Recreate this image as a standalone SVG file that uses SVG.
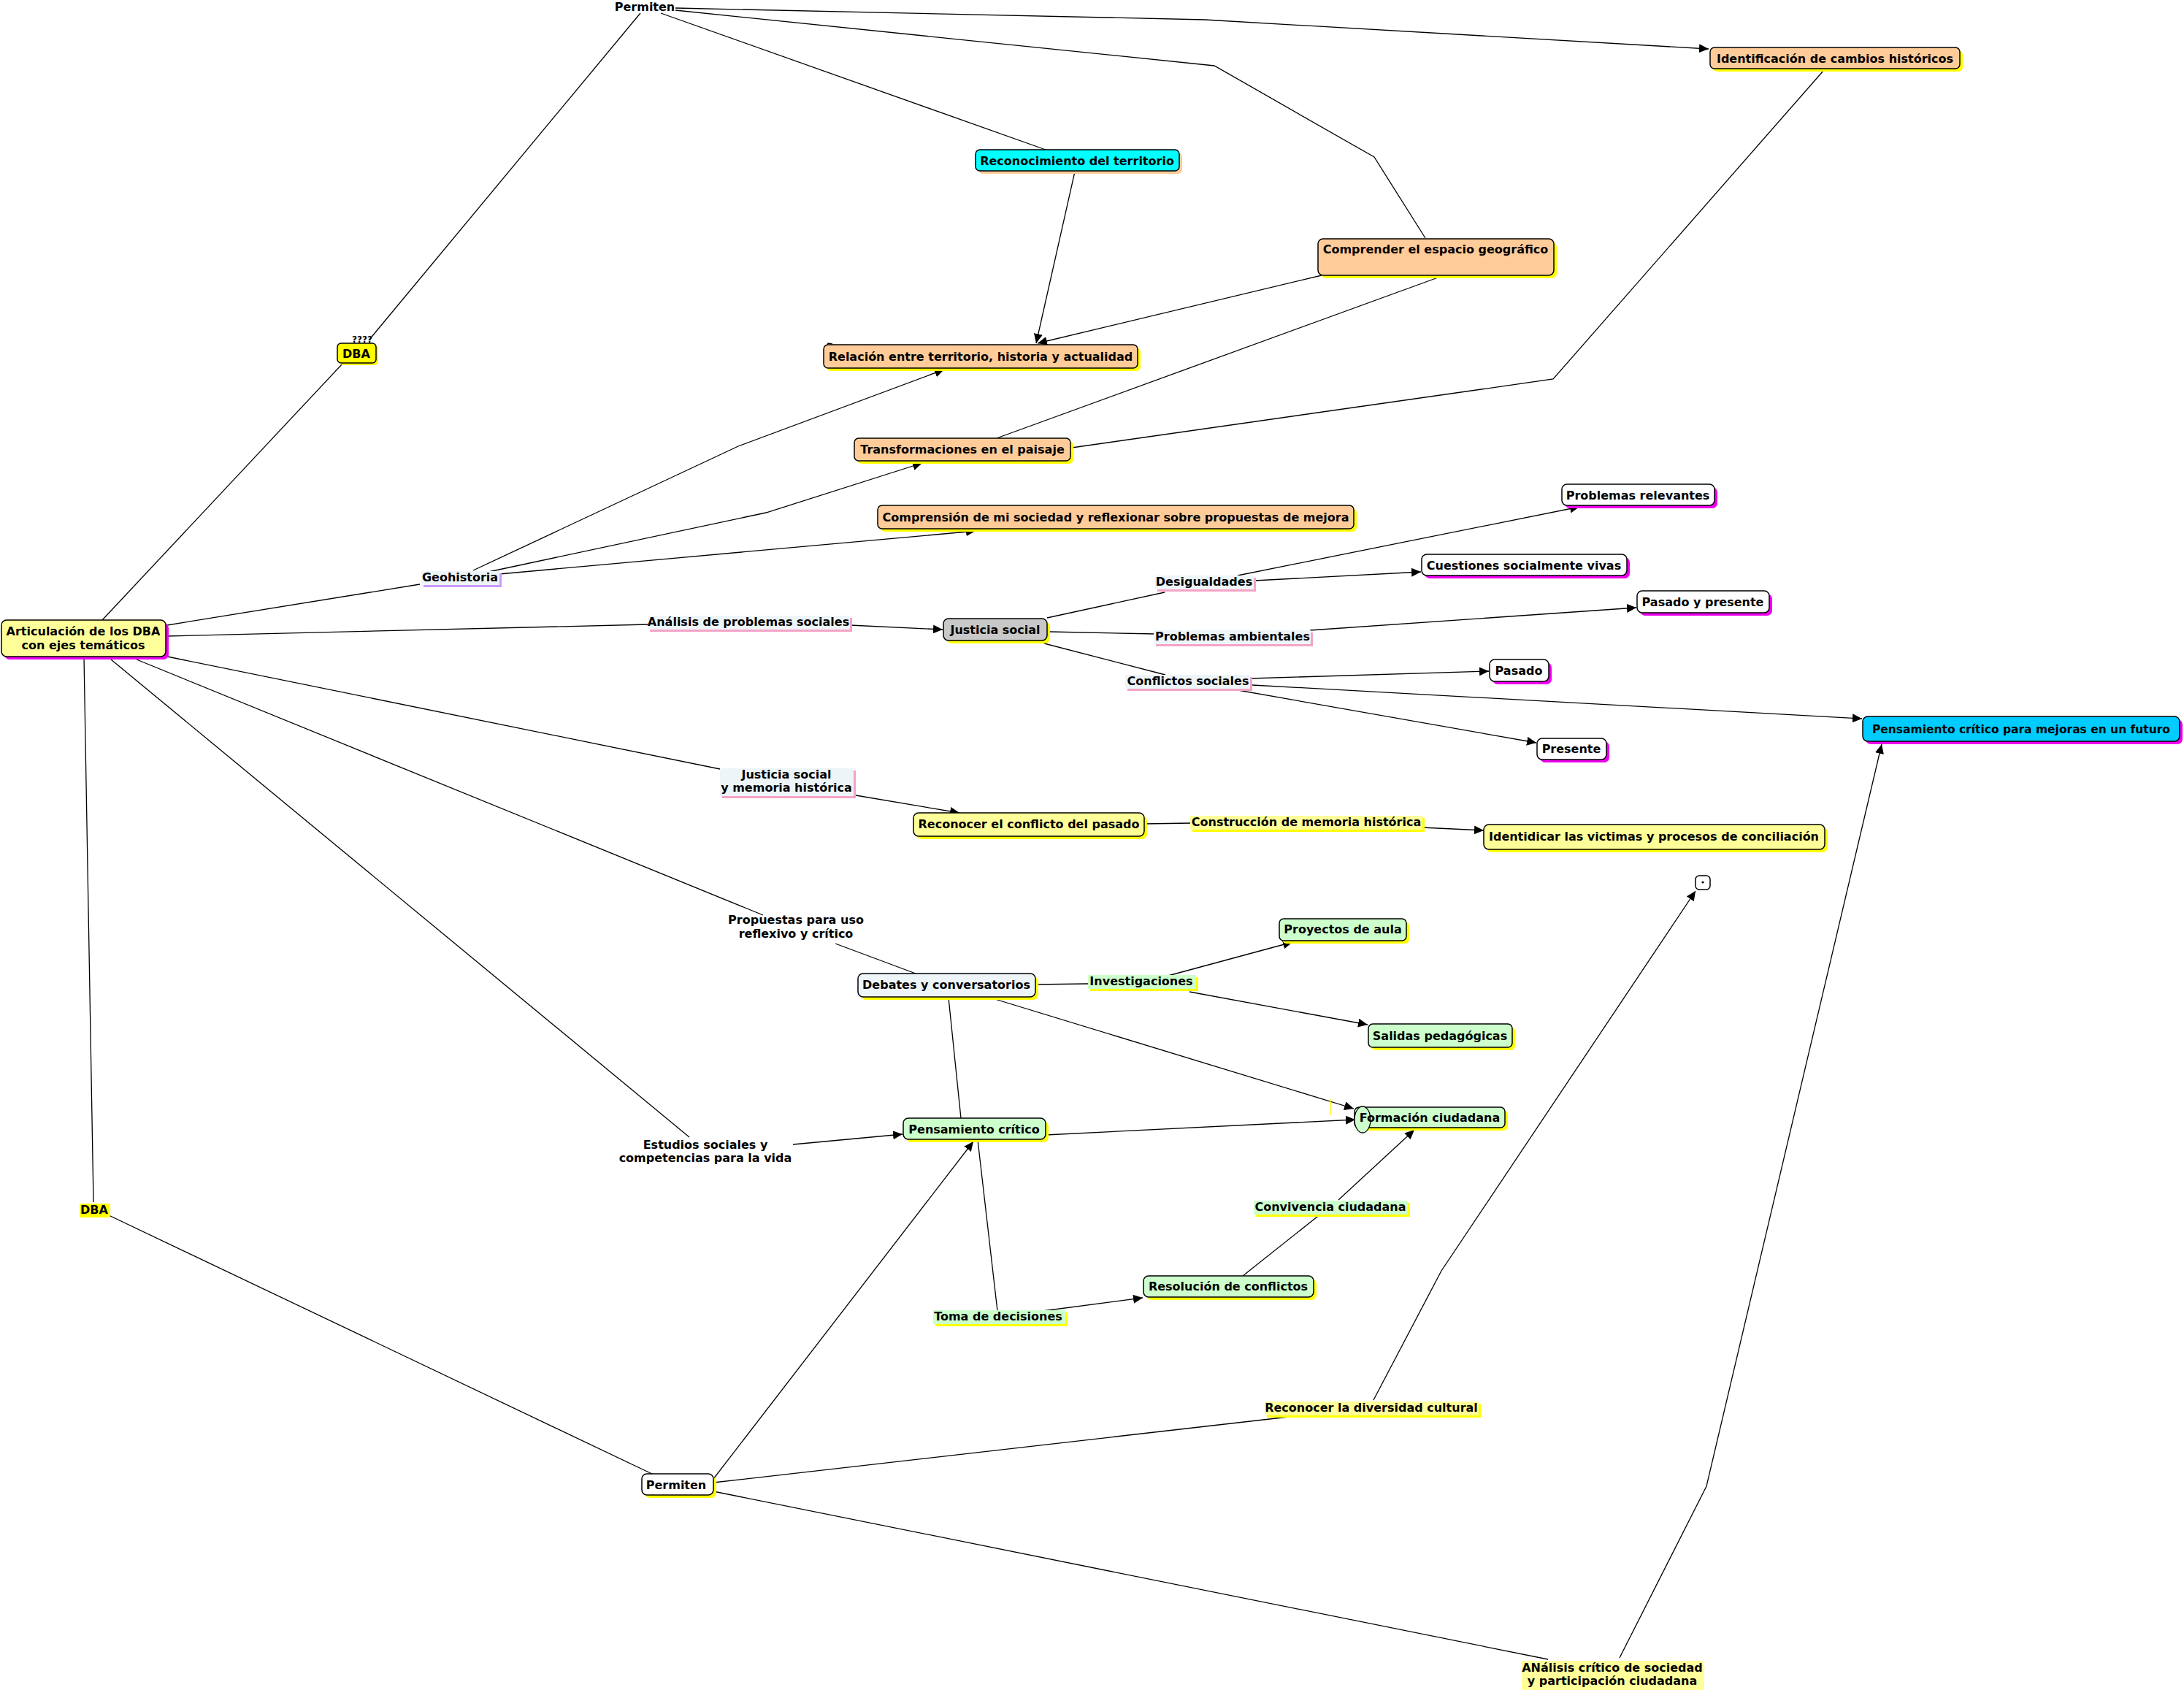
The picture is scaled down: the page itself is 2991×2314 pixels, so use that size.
<svg xmlns="http://www.w3.org/2000/svg" width="2991" height="2314" viewBox="0 0 2991 2314">
<defs>
<marker id="arr" markerUnits="userSpaceOnUse" markerWidth="14" markerHeight="12" refX="13" refY="6" orient="auto"><path d="M0,0 L13,6 L0,12 z" fill="#000"/></marker>
</defs>
<style>
text{font-family:"DejaVu Sans","Verdana",sans-serif;font-weight:bold;font-size:16px;fill:#000;text-anchor:middle}
.c path,.c line,.c polyline{fill:none;stroke:#000;stroke-width:1.3}
.a{marker-end:url(#arr)}
.box{stroke:#000;stroke-width:1.5}
.peach{fill:#ffcc99}.ly{fill:#ffff99}.yel{fill:#ffff00}.cy{fill:#00ffff}.sky{fill:#00ccff}.gray{fill:#c8c8c8}.wh{fill:#ffffff}.gr{fill:#ccffcc}.pale{fill:#eef5f8}
.sy{fill:#ffff00}.sm{fill:#ee00ee}.sp{fill:#ffcc99}.spk{fill:#f5a3c7}.slv{fill:#cc99ff}
</style>
<rect width="2991" height="2314" fill="#fff"/>

<g id="connectors" class="c">
<polyline points="877,18 505,466"/>
<polyline points="469,498 140,849"/>
<polyline class="a" points="925,11 1650,27 2340,67"/>
<polyline points="925,14 1663,90 1882,215 1952,326"/>
<polyline points="905,18 1432,205"/>
<polyline class="a" points="1472,235 1419,470"/>
<polyline class="a" points="1810,377 1421,470"/>
<polyline points="1365,600 1972,379"/>
<polyline points="1468,613 2127,519 2497,97"/>
<polyline points="229,856 575,800"/>
<polyline class="a" points="648,781 1011,611 1293,506"/>
<polyline class="a" points="669,783 1049,702 1263,634"/>
<polyline class="a" points="684,786 1336,727"/>
<polyline points="229,871 887,855"/>
<polyline class="a" points="1164,856 1291,862"/>
<polyline points="1434,846 1595,811"/>
<polyline class="a" points="1695,788 2163,694"/>
<polyline class="a" points="1718,795 1946,783"/>
<polyline points="1437,865 1582,868"/>
<polyline class="a" points="1794,863 2241,832"/>
<polyline points="1430,881 1596,924"/>
<polyline class="a" points="1712,929 2039,919"/>
<polyline class="a" points="1715,938 2550,984"/>
<polyline class="a" points="1684,943 2104,1017"/>
<polyline points="229,899 986,1053"/>
<polyline class="a" points="1172,1089 1314,1113"/>
<polyline points="1567,1128 1632,1127"/>
<polyline class="a" points="1947,1133 2032,1137"/>
<polyline points="187,903 1045,1253"/>
<polyline points="1144,1292 1254,1333"/>
<polyline points="1419,1348 1490,1347"/>
<polyline class="a" points="1596,1337 1770,1290"/>
<polyline class="a" points="1629,1358 1873,1403"/>
<polyline class="a" points="1356,1366 1854,1518"/>
<polyline points="1299,1366 1316,1531"/>
<polyline points="1339,1561 1366,1795"/>
<polyline class="a" points="1432,1554 1856,1533"/>
<polyline points="152,903 944,1557"/>
<polyline class="a" points="1086,1567 1236,1553"/>
<polyline class="a" points="1428,1795 1565,1777"/>
<polyline points="1702,1747 1809,1662"/>
<polyline class="a" points="1833,1643 1937,1547"/>
<polyline points="115,900 128,1646"/>
<polyline points="149,1664 897,2020"/>
<polyline points="977,2030 1765,1940"/>
<polyline points="977,2042 2120,2272"/>
<polyline class="a" points="1881,1917 1974,1740 2322,1220"/>
<polyline class="a" points="2218,2270 2337,2035 2577,1019"/>
<polyline class="a" points="977,2025 1333,1563"/>
<line x1="1822" y1="1505" x2="1822" y2="1527" style="stroke:#ffff00"/>
<polyline points="1132,476 1134,470 1140,471"/>
</g>

<g id="n_articulacion"><rect x="6" y="853" width="225" height="50" rx="7" class="sm"/><rect x="2" y="849" width="225" height="50" rx="7" class="box ly"/><text x="114" y="870">Articulación de los DBA</text><text x="114" y="889">con ejes temáticos</text></g>
<g id="n_permiten_top"><text x="883" y="15">Permiten</text></g>
<g id="n_dba_top"><text x="496" y="469" style="font-size:12px">????</text><rect x="465" y="473" width="53" height="27" rx="5" class="sy"/><rect x="462" y="470" width="53" height="27" rx="5" class="box yel"/><text x="488" y="490">DBA</text></g>
<g id="n_reconocimiento"><rect x="1340" y="209" width="279" height="29" rx="6" class="sp"/><rect x="1336" y="205" width="279" height="29" rx="6" class="box cy"/><text x="1475" y="226">Reconocimiento del territorio</text></g>
<g id="n_comprender"><rect x="1809" y="331" width="323" height="50" rx="7" class="sy"/><rect x="1805" y="327" width="323" height="50" rx="7" class="box peach"/><text x="1966" y="347">Comprender el espacio geográfico</text></g>
<g id="n_identificacion"><rect x="2346" y="69" width="342" height="29" rx="6" class="sy"/><rect x="2342" y="65" width="342" height="29" rx="6" class="box peach"/><text x="2513" y="86">Identificación de cambios históricos</text></g>
<g id="n_relacion"><rect x="1132" y="476" width="430" height="32" rx="6" class="sy"/><rect x="1128" y="472" width="430" height="32" rx="6" class="box peach"/><text x="1343" y="494">Relación entre territorio, historia y actualidad</text></g>
<g id="n_transformaciones"><rect x="1174" y="604" width="296" height="31" rx="6" class="sy"/><rect x="1170" y="600" width="296" height="31" rx="6" class="box peach"/><text x="1318" y="621">Transformaciones en el paisaje</text></g>
<g id="n_comprension"><rect x="1206" y="696" width="652" height="32" rx="6" class="sy"/><rect x="1202" y="692" width="652" height="32" rx="6" class="box peach"/><text x="1528" y="714">Comprensión de mi sociedad y reflexionar sobre propuestas de mejora</text></g>
<g id="n_geohistoria"><rect x="580" y="785" width="107" height="19" class="slv"/><rect x="577" y="782" width="107" height="19" class="pale"/><text x="630" y="796">Geohistoria</text></g>
<g id="n_analisis"><rect x="890" y="846" width="277" height="19" class="spk"/><rect x="887" y="843" width="277" height="19" class="pale"/><text x="1025" y="857">Análisis de problemas sociales</text></g>
<g id="n_justicia"><rect x="1296" y="851" width="142" height="30" rx="7" class="sy"/><rect x="1292" y="847" width="142" height="30" rx="7" class="box gray"/><text x="1363" y="868">Justicia social</text></g>
<g id="n_desigualdades"><rect x="1585" y="791" width="135" height="19" class="spk"/><rect x="1582" y="788" width="135" height="19" class="pale"/><text x="1649" y="802">Desigualdades</text></g>
<g id="n_ambientales"><rect x="1583" y="866" width="215" height="19" class="spk"/><rect x="1580" y="863" width="215" height="19" class="pale"/><text x="1688" y="877">Problemas ambientales</text></g>
<g id="n_conflictos"><rect x="1544" y="927" width="171" height="19" class="spk"/><rect x="1541" y="924" width="171" height="19" class="pale"/><text x="1627" y="938">Conflictos sociales</text></g>
<g id="n_relevantes"><rect x="2143" y="667" width="209" height="29" rx="7" class="sm"/><rect x="2139" y="663" width="209" height="29" rx="7" class="box wh"/><text x="2243" y="684">Problemas relevantes</text></g>
<g id="n_cuestiones"><rect x="1951" y="763" width="281" height="29" rx="7" class="sm"/><rect x="1947" y="759" width="281" height="29" rx="7" class="box wh"/><text x="2087" y="780">Cuestiones socialmente vivas</text></g>
<g id="n_pasadopresente"><rect x="2246" y="813" width="181" height="30" rx="7" class="sm"/><rect x="2242" y="809" width="181" height="30" rx="7" class="box wh"/><text x="2332" y="830">Pasado y presente</text></g>
<g id="n_pasado"><rect x="2044" y="907" width="81" height="30" rx="7" class="sm"/><rect x="2040" y="903" width="81" height="30" rx="7" class="box wh"/><text x="2080" y="924">Pasado</text></g>
<g id="n_presente"><rect x="2109" y="1015" width="95" height="29" rx="7" class="sm"/><rect x="2105" y="1011" width="95" height="29" rx="7" class="box wh"/><text x="2152" y="1031">Presente</text></g>
<g id="n_pens_futuro"><rect x="2555" y="985" width="434" height="34" rx="7" class="sm"/><rect x="2551" y="981" width="434" height="34" rx="7" class="box sky"/><text x="2768" y="1004" textLength="408" lengthAdjust="spacingAndGlyphs">Pensamiento crítico para mejoras en un futuro</text></g>
<g id="n_js_memoria"><rect x="989" y="1055" width="183" height="38" class="spk"/><rect x="986" y="1052" width="183" height="38" class="pale"/><text x="1077" y="1066">Justicia social</text><text x="1077" y="1084">y memoria histórica</text></g>
<g id="n_reconocer_conflicto"><rect x="1255" y="1117" width="316" height="32" rx="7" class="sy"/><rect x="1251" y="1113" width="316" height="32" rx="7" class="box ly"/><text x="1409" y="1134">Reconocer el conflicto del pasado</text></g>
<g id="n_construccion"><rect x="1633" y="1120" width="318" height="19" class="sy"/><rect x="1630" y="1117" width="318" height="19" class="ly"/><text x="1789" y="1131">Construcción de memoria histórica</text></g>
<g id="n_identidicar"><rect x="2036" y="1133" width="467" height="34" rx="7" class="sy"/><rect x="2032" y="1129" width="467" height="34" rx="7" class="box ly"/><text x="2265" y="1151">Identidicar las victimas y procesos de conciliación</text></g>
<g id="n_dot"><rect x="2322" y="1199" width="20" height="19" rx="5" class="box wh"/><circle cx="2332" cy="1208" r="1.6" fill="#000"/></g>
<g id="n_proyectos"><rect x="1756" y="1262" width="174" height="30" rx="6" class="sy"/><rect x="1752" y="1258" width="174" height="30" rx="6" class="box gr"/><text x="1839" y="1278">Proyectos de aula</text></g>
<g id="n_salidas"><rect x="1878" y="1406" width="197" height="32" rx="6" class="sy"/><rect x="1874" y="1402" width="197" height="32" rx="6" class="box gr"/><text x="1972" y="1424">Salidas pedagógicas</text></g>
<g id="n_propuestas"><text x="1090" y="1265">Propuestas para uso</text><text x="1090" y="1284">reflexivo y crítico</text></g>
<g id="n_debates"><rect x="1179" y="1337" width="243" height="32" rx="7" class="sy"/><rect x="1175" y="1333" width="243" height="32" rx="7" class="box pale"/><text x="1296" y="1354">Debates y conversatorios</text></g>
<g id="n_investigaciones"><rect x="1493" y="1338" width="148" height="19" class="sy"/><rect x="1490" y="1335" width="148" height="19" class="gr"/><text x="1563" y="1349">Investigaciones</text></g>
<g id="n_formacion"><rect x="1859" y="1520" width="206" height="28" rx="6" class="sy"/><rect x="1855" y="1516" width="206" height="28" rx="6" class="box gr"/><ellipse cx="1866" cy="1533" rx="11" ry="18" class="gr" style="stroke:#000;stroke-width:1.3"/><text x="1958" y="1536">Formación ciudadana</text></g>
<g id="n_pensamiento"><rect x="1241" y="1535" width="195" height="29" rx="7" class="sy"/><rect x="1237" y="1531" width="195" height="29" rx="7" class="box gr"/><text x="1334" y="1552">Pensamiento crítico</text></g>
<g id="n_estudios"><text x="966" y="1573">Estudios sociales y</text><text x="966" y="1591">competencias para la vida</text></g>
<g id="n_toma"><rect x="1281" y="1797" width="181" height="19" class="sy"/><rect x="1278" y="1794" width="181" height="19" class="gr"/><text x="1367" y="1808">Toma de decisiones</text></g>
<g id="n_resolucion"><rect x="1570" y="1751" width="233" height="29" rx="7" class="sy"/><rect x="1566" y="1747" width="233" height="29" rx="7" class="box gr"/><text x="1682" y="1767">Resolución de conflictos</text></g>
<g id="n_convivencia"><rect x="1720" y="1647" width="211" height="19" class="sy"/><rect x="1717" y="1644" width="211" height="19" class="gr"/><text x="1822" y="1658">Convivencia ciudadana</text></g>
<g id="n_dba_low"><rect x="109" y="1648" width="42" height="19" class="yel"/><text x="129" y="1662">DBA</text></g>
<g id="n_permiten_low"><rect x="883" y="2022" width="98" height="29" rx="7" class="sy"/><rect x="879" y="2018" width="98" height="29" rx="7" class="box wh"/><text x="926" y="2039">Permiten</text></g>
<g id="n_diversidad"><rect x="1735" y="1922" width="293" height="19" class="sy"/><rect x="1732" y="1919" width="293" height="19" class="ly"/><text x="1878" y="1933">Reconocer la diversidad cultural</text></g>
<g id="n_analisis_critico"><rect x="2084" y="2274" width="250" height="40" class="ly"/><text x="2208" y="2289">ANálisis crítico de sociedad</text><text x="2208" y="2307">y participación ciudadana</text></g>
</svg>
